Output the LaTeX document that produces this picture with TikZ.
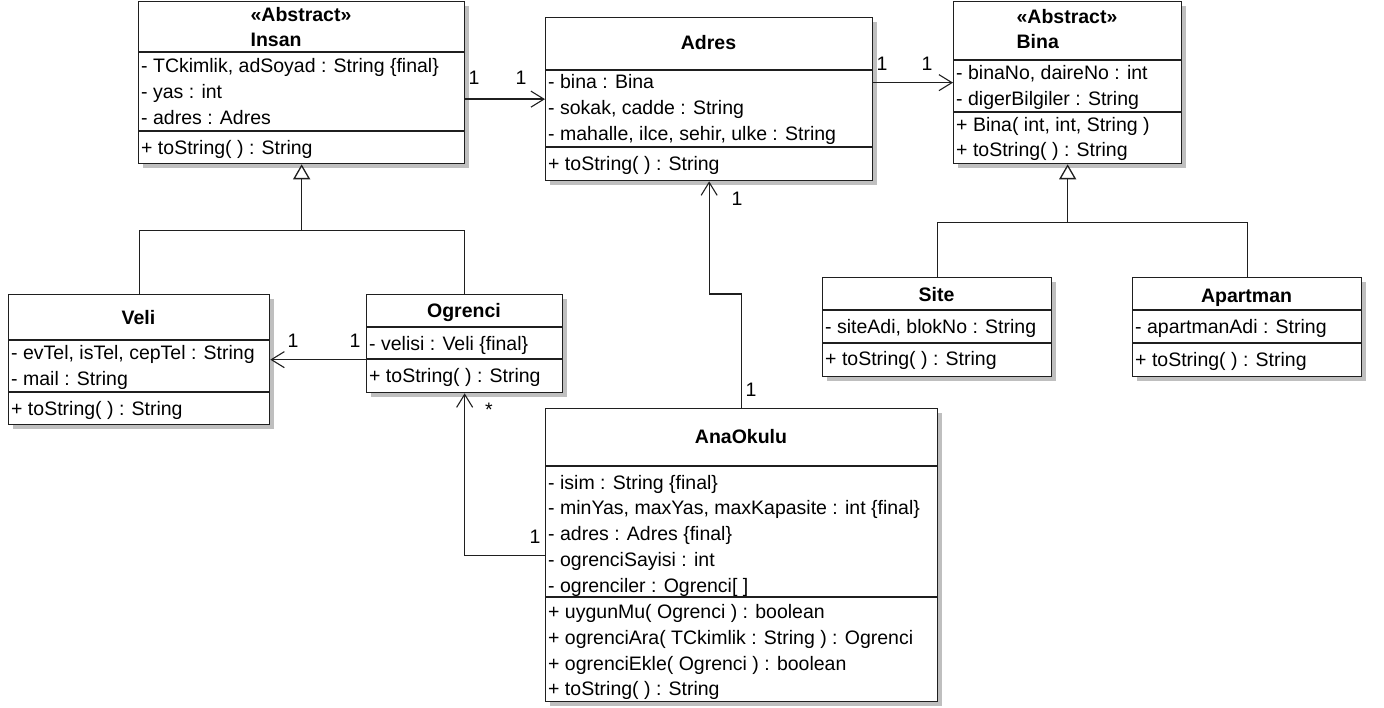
\documentclass[tikz,border=0pt]{standalone}
\usepackage{fontspec}
\setmainfont{Liberation Sans}
\usetikzlibrary{arrows.meta,shadows}
\begin{document}
\begin{tikzpicture}[x=1pt,y=-1pt,
  cls/.style={draw=black!88, line width=1.3pt, fill=white, anchor=north west, inner sep=0pt,
    drop shadow={shadow xshift=4pt, shadow yshift=-4pt, fill=black!25, opacity=1}},
  sepline/.style={draw=black!88, line width=1.3pt},
  txt/.style={anchor=base west, inner sep=0pt, font=\fontsize{19.5}{25}\selectfont},
  ttl/.style={inner sep=0pt, font=\fontsize{19.5}{25}\selectfont\bfseries, align=left},
  lbl/.style={inner sep=0pt, font=\fontsize{19.5}{25}\selectfont},
  conn/.style={draw=black!88, line width=1.3pt},
  assoc/.style={conn, -{Straight Barb[length=13pt,width=16pt,line width=1.1pt]}},
  gen/.style={conn, -{Triangle[open, length=15pt, width=17pt, line width=1.3pt, fill=white]}},
]
\useasboundingbox (0,0) rectangle (1384,708);

% ---------- class boxes ----------
\node[cls, minimum width=326pt, minimum height=162pt] (insan) at (138,1) {};
\node[cls, minimum width=327pt, minimum height=163pt] (adres) at (545,17) {};
\node[cls, minimum width=228pt, minimum height=162pt] (bina) at (953,1) {};
\node[cls, minimum width=261pt, minimum height=130pt] (veli) at (8,294) {};
\node[cls, minimum width=196pt, minimum height=98pt] (ogrenci) at (366,294) {};
\node[cls, minimum width=392pt, minimum height=293pt] (anaokulu) at (545,408) {};
\node[cls, minimum width=229pt, minimum height=99pt] (site) at (822,277) {};
\node[cls, minimum width=229pt, minimum height=99pt] (apartman) at (1132,277) {};

% ---------- compartment lines ----------
\draw[sepline] (138,52) -- (464,52) (138,131) -- (464,131);
\draw[sepline] (545,70) -- (872,70) (545,147) -- (872,147);
\draw[sepline] (953,60) -- (1181,60) (953,112) -- (1181,112);
\draw[sepline] (8,340) -- (269,340) (8,392) -- (269,392);
\draw[sepline] (366,327) -- (562,327) (366,359) -- (562,359);
\draw[sepline] (545,466) -- (937,466) (545,597) -- (937,597);
\draw[sepline] (822,310) -- (1051,310) (822,343) -- (1051,343);
\draw[sepline] (1132,310) -- (1361,310) (1132,343) -- (1361,343);

% ---------- Insan ----------
\node[ttl] (insanT) at (301,27.5) {«Abstract»\\Insan};
\node[txt] (insanA1) at (141,73) {- TCkimlik, adSoyad : String \{final\}};
\node[txt] (insanA2) at (141,99) {- yas : int};
\node[txt] (insanA3) at (141,125) {- adres : Adres};
\node[txt] (insanO1) at (141,155) {+ toString( ) : String};

% ---------- Adres ----------
\node[ttl] (adresT) at (708.5,43) {Adres};
\node[txt] (adresA1) at (548,89) {- bina : Bina};
\node[txt] (adresA2) at (548,115) {- sokak, cadde : String};
\node[txt] (adresA3) at (548,141) {- mahalle, ilce, sehir, ulke : String};
\node[txt] (adresO1) at (548,171) {+ toString( ) : String};

% ---------- Bina ----------
\node[ttl] (binaT) at (1067,29.5) {«Abstract»\\Bina};
\node[txt] (binaA1) at (956,80) {- binaNo, daireNo : int};
\node[txt] (binaA2) at (956,106) {- digerBilgiler : String};
\node[txt] (binaO1) at (956,132) {+ Bina( int, int, String )};
\node[txt] (binaO2) at (956,157) {+ toString( ) : String};

% ---------- Veli ----------
\node[ttl] (veliT) at (138.5,318) {Veli};
\node[txt] (veliA1) at (11,360) {- evTel, isTel, cepTel : String};
\node[txt] (veliA2) at (11,386) {- mail : String};
\node[txt] (veliO1) at (11,415) {+ toString( ) : String};

% ---------- Ogrenci ----------
\node[ttl] (ogrenciT) at (464,312.5) {Ogrenci};
\node[txt] (ogrenciA1) at (369,351) {- velisi : Veli \{final\}};
\node[txt] (ogrenciO1) at (369,383) {+ toString( ) : String};

% ---------- AnaOkulu ----------
\node[ttl] (anaT) at (741,437) {AnaOkulu};
\node[txt] (anaA1) at (548,489) {- isim : String \{final\}};
\node[txt] (anaA2) at (548,514) {- minYas, maxYas, maxKapasite : int \{final\}};
\node[txt] (anaA3) at (548,540) {- adres : Adres \{final\}};
\node[txt] (anaA4) at (548,566) {- ogrenciSayisi : int};
\node[txt] (anaA5) at (548,592) {- ogrenciler : Ogrenci[ ]};
\node[txt] (anaO1) at (548,618) {+ uygunMu( Ogrenci ) : boolean};
\node[txt] (anaO2) at (548,644) {+ ogrenciAra( TCkimlik : String ) : Ogrenci};
\node[txt] (anaO3) at (548,670) {+ ogrenciEkle( Ogrenci ) : boolean};
\node[txt] (anaO4) at (548,695) {+ toString( ) : String};

% ---------- Site ----------
\node[ttl] (siteT) at (936.5,295) {Site};
\node[txt] (siteA1) at (825,334) {- siteAdi, blokNo : String};
\node[txt] (siteO1) at (825,366) {+ toString( ) : String};

% ---------- Apartman ----------
\node[ttl] (apartmanT) at (1246.5,297.5) {Apartman};
\node[txt] (apartmanA1) at (1135,334) {- apartmanAdi : String};
\node[txt] (apartmanO1) at (1135,367) {+ toString( ) : String};

% ---------- generalizations ----------
\path (insan.south) ++(0,66) coordinate (gi);
\draw[conn] (veli.north) |- (gi) -| (ogrenci.north);
\draw[gen] (gi) -- (insan.south);

\path (bina.south) ++(0,58) coordinate (gb);
\draw[conn] (site.north) |- (gb) -| (apartman.north);
\draw[gen] (gb) -- (bina.south);

% ---------- associations ----------
\draw[assoc] (adres.west -| insan.east) -- (adres.west);
\draw[assoc] (bina.west -| adres.east) -- (bina.west);
\draw[assoc] (veli.east -| ogrenci.west) -- (veli.east);
\path (anaokulu.north) ++(0,-114) coordinate (aj);
\draw[assoc] (anaokulu.north) -- (aj) -| (adres.south);
\draw[assoc] (anaokulu.west) -| (ogrenci.south);

% ---------- multiplicities ----------
\node[lbl] (m1) at (474,78) {1};
\node[lbl] (m2) at (521,78) {1};
\node[lbl] (m3) at (882,64) {1};
\node[lbl] (m4) at (927,64) {1};
\node[lbl] (m5) at (293,341) {1};
\node[lbl] (m6) at (355,341) {1};
\node[lbl] (m7) at (737,199) {1};
\node[lbl] (m8) at (751,390) {1};
\node[lbl] (m9) at (489,410) {*};
\node[lbl] (m10) at (535,537) {1};
\end{tikzpicture}
\end{document}
